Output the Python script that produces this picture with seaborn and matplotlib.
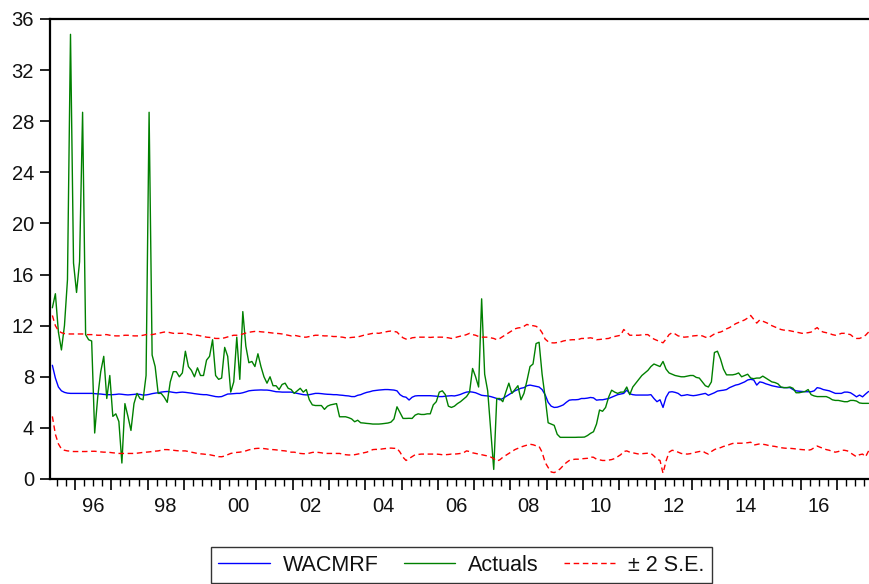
import numpy as np
import pandas as pd
import matplotlib
matplotlib.use("Agg")
import matplotlib.pyplot as plt
import seaborn as sns

# ---------------- data (monthly, 1995:05 .. 2017:11) ----------------
start_year, start_month = 1995, 5

actuals = [
    13.4, 14.5, 11.5, 10.1, 12.0, 15.6, 34.8, 16.9,                     # 1995
    14.6, 17.0, 28.7, 11.3, 10.9, 10.8, 3.6, 6.4, 8.4, 9.6, 6.3, 8.1,   # 1996
    4.9, 5.1, 4.5, 1.25, 5.9, 4.9, 3.8, 5.9, 6.7, 6.3, 6.2, 8.1,        # 1997
    28.7, 9.7, 8.8, 6.7, 6.7, 6.4, 6.0, 7.6, 8.4, 8.4, 8.0, 8.3,        # 1998
    10.0, 8.8, 8.5, 8.0, 8.7, 8.1, 8.1, 9.3, 9.6, 10.9, 8.1, 7.8,       # 1999
    7.9, 10.3, 9.6, 6.8, 7.6, 11.1, 7.8, 13.1, 10.4, 9.1, 9.2, 8.8,     # 2000
    9.8, 8.8, 8.0, 7.5, 8.0, 7.3, 7.3, 7.0, 7.4, 7.5, 7.1, 7.0,         # 2001
    6.7, 6.9, 7.1, 6.8, 7.0, 6.2, 5.8, 5.75, 5.75, 5.75, 5.45, 5.7,     # 2002
    5.8, 5.85, 5.9, 4.87, 4.87, 4.87, 4.8, 4.7, 4.48, 4.6, 4.4, 4.38,   # 2003
    4.35, 4.33, 4.3, 4.3, 4.3, 4.32, 4.35, 4.38, 4.45, 4.7, 5.65, 5.2,  # 2004
    4.74, 4.74, 4.75, 4.74, 5.0, 5.1, 5.05, 5.05, 5.1, 5.1, 5.8, 6.05,  # 2005
    6.8, 6.9, 6.6, 5.7, 5.6, 5.7, 5.9, 6.05, 6.25, 6.45, 6.8, 8.65,     # 2006
    8.0, 7.2, 14.1, 8.2, 6.9, 3.8, 0.75, 6.3, 6.3, 6.05, 6.8, 7.5,      # 2007
    6.7, 7.0, 7.3, 6.2, 6.7, 7.7, 8.8, 9.0, 10.6, 10.7, 8.2, 6.4,       # 2008
    4.4, 4.3, 4.2, 3.5, 3.26, 3.26, 3.26, 3.26, 3.26, 3.26, 3.27, 3.27, # 2009
    3.28, 3.4, 3.57, 3.7, 4.3, 5.4, 5.3, 5.6, 6.4, 6.95, 6.8, 6.7,      # 2010
    6.8, 6.8, 7.2, 6.6, 7.2, 7.5, 7.8, 8.1, 8.3, 8.5, 8.8, 9.0,         # 2011
    8.9, 8.8, 9.2, 8.6, 8.3, 8.2, 8.1, 8.05, 8.0, 8.0, 8.05, 8.1,       # 2012
    8.1, 7.95, 7.9, 7.6, 7.3, 7.2, 7.6, 9.9, 10.0, 9.4, 8.6, 8.15,      # 2013
    8.15, 8.15, 8.2, 8.3, 8.0, 8.1, 8.2, 7.9, 7.85, 7.9, 7.9, 8.05,     # 2014
    7.9, 7.75, 7.6, 7.55, 7.45, 7.2, 7.15, 7.15, 7.2, 7.1, 6.75, 6.75,  # 2015
    6.8, 6.85, 7.0, 6.6, 6.5, 6.45, 6.45, 6.45, 6.45, 6.35, 6.2, 6.15,  # 2016
    6.15, 6.1, 6.05, 6.05, 6.15, 6.15, 6.1, 5.95, 5.92, 5.92, 5.92,     # 2017
]

wacmrf = [
    8.9, 7.9, 7.2, 6.9, 6.78, 6.72, 6.7, 6.7,                                # 1995
    6.7, 6.7, 6.7, 6.7, 6.7, 6.7, 6.68, 6.66, 6.65, 6.62, 6.6, 6.6,          # 1996
    6.6, 6.62, 6.65, 6.63, 6.6, 6.58, 6.6, 6.62, 6.65, 6.62, 6.57, 6.58,     # 1997
    6.62, 6.68, 6.72, 6.75, 6.8, 6.83, 6.85, 6.82, 6.78, 6.75, 6.78, 6.8,    # 1998
    6.78, 6.75, 6.72, 6.68, 6.65, 6.62, 6.6, 6.6, 6.55, 6.5, 6.45, 6.43,     # 1999
    6.45, 6.55, 6.65, 6.66, 6.68, 6.7, 6.7, 6.75, 6.82, 6.9, 6.93, 6.95,     # 2000
    6.96, 6.97, 6.96, 6.96, 6.93, 6.88, 6.83, 6.82, 6.8, 6.8, 6.8, 6.8,      # 2001
    6.75, 6.7, 6.65, 6.6, 6.58, 6.6, 6.65, 6.7, 6.7, 6.68, 6.65, 6.63,       # 2002
    6.62, 6.6, 6.6, 6.57, 6.55, 6.52, 6.5, 6.45, 6.45, 6.55, 6.6, 6.7,       # 2003
    6.78, 6.83, 6.9, 6.93, 6.96, 6.98, 7.0, 7.0, 6.98, 6.96, 6.9, 6.6,       # 2004
    6.45, 6.4, 6.18, 6.4, 6.5, 6.52, 6.52, 6.52, 6.52, 6.52, 6.5, 6.48,      # 2005
    6.45, 6.45, 6.48, 6.5, 6.52, 6.5, 6.55, 6.62, 6.72, 6.8, 6.83, 6.8,      # 2006
    6.75, 6.65, 6.55, 6.52, 6.5, 6.45, 6.38, 6.3, 6.2, 6.3, 6.45, 6.6,       # 2007
    6.75, 6.9, 7.0, 7.1, 7.15, 7.3, 7.35, 7.3, 7.25, 7.2, 7.0, 6.6,          # 2008
    6.0, 5.7, 5.6, 5.62, 5.7, 5.8, 6.0, 6.17, 6.2, 6.2, 6.22, 6.3,           # 2009
    6.3, 6.33, 6.38, 6.35, 6.17, 6.2, 6.2, 6.25, 6.3, 6.4, 6.5, 6.6,         # 2010
    6.65, 6.7, 6.96, 6.67, 6.6, 6.57, 6.57, 6.57, 6.57, 6.57, 6.6, 6.3,      # 2011
    6.05, 6.2, 5.6, 6.4, 6.8, 6.83, 6.78, 6.7, 6.52, 6.55, 6.6, 6.55,        # 2012
    6.52, 6.55, 6.6, 6.65, 6.7, 6.55, 6.65, 6.75, 6.88, 6.92, 6.95, 7.0,     # 2013
    7.15, 7.25, 7.35, 7.4, 7.5, 7.6, 7.75, 7.8, 7.75, 7.35, 7.6, 7.55,       # 2014
    7.45, 7.38, 7.3, 7.25, 7.2, 7.17, 7.15, 7.15, 7.15, 7.0, 6.9, 6.87,      # 2015
    6.85, 6.83, 6.83, 6.83, 6.9, 7.15, 7.1, 7.0, 6.95, 6.9, 6.8, 6.7,        # 2016
    6.7, 6.7, 6.8, 6.8, 6.75, 6.6, 6.43, 6.57, 6.43, 6.65, 6.85,             # 2017
]

se_upper = [
    12.8, 12.0, 11.6, 11.45, 11.38, 11.35, 11.35, 11.35,                          # 1995
    11.35, 11.35, 11.35, 11.3, 11.3, 11.3, 11.28, 11.25, 11.25, 11.3, 11.3, 11.25, # 1996
    11.22, 11.2, 11.2, 11.22, 11.25, 11.25, 11.22, 11.2, 11.2, 11.2, 11.25, 11.3,  # 1997
    11.3, 11.3, 11.35, 11.4, 11.45, 11.5, 11.5, 11.45, 11.4, 11.4, 11.4, 11.4,     # 1998
    11.4, 11.35, 11.3, 11.25, 11.25, 11.2, 11.15, 11.1, 11.08, 11.05, 11.0, 11.0,  # 1999
    11.0, 11.05, 11.12, 11.2, 11.25, 11.25, 11.28, 11.35, 11.42, 11.48, 11.52, 11.55, # 2000
    11.55, 11.52, 11.5, 11.48, 11.45, 11.42, 11.4, 11.38, 11.35, 11.3, 11.25, 11.2,   # 2001
    11.25, 11.2, 11.15, 11.1, 11.1, 11.15, 11.2, 11.25, 11.25, 11.22, 11.2, 11.2,     # 2002
    11.18, 11.15, 11.15, 11.12, 11.1, 11.05, 11.05, 11.08, 11.1, 11.12, 11.18, 11.25, # 2003
    11.3, 11.35, 11.4, 11.42, 11.4, 11.45, 11.5, 11.55, 11.58, 11.55, 11.5, 11.25,    # 2004
    11.05, 10.95, 10.95, 11.05, 11.08, 11.1, 11.1, 11.1, 11.1, 11.08, 11.1, 11.1,     # 2005
    11.1, 11.1, 11.08, 11.05, 11.0, 11.05, 11.12, 11.18, 11.22, 11.3, 11.4, 11.3,     # 2006
    11.25, 11.15, 11.1, 11.1, 11.1, 11.05, 11.0, 10.9, 11.0, 11.15, 11.3, 11.45,      # 2007
    11.6, 11.75, 11.82, 11.85, 11.95, 12.1, 12.0, 12.0, 11.95, 11.8, 11.45, 10.95,    # 2008
    10.75, 10.66, 10.65, 10.68, 10.72, 10.8, 10.85, 10.88, 10.9, 10.9, 10.92, 11.0,   # 2009
    11.0, 11.02, 11.05, 11.0, 10.9, 10.92, 10.95, 10.98, 11.0, 11.1, 11.15, 11.2,     # 2010
    11.25, 11.7, 11.5, 11.25, 11.25, 11.25, 11.25, 11.28, 11.3, 11.3, 11.1, 10.95,    # 2011
    10.85, 10.75, 10.66, 10.95, 11.3, 11.45, 11.35, 11.2, 11.15, 11.1, 11.12, 11.15,  # 2012
    11.2, 11.22, 11.25, 11.2, 11.1, 11.05, 11.2, 11.35, 11.45, 11.5, 11.6, 11.75,     # 2013
    11.85, 12.0, 12.15, 12.25, 12.35, 12.45, 12.6, 12.8, 12.5, 12.2, 12.45, 12.35,    # 2014
    12.25, 12.15, 12.0, 11.9, 11.8, 11.7, 11.65, 11.65, 11.6, 11.55, 11.5, 11.45,     # 2015
    11.4, 11.42, 11.45, 11.5, 11.7, 11.85, 11.6, 11.5, 11.45, 11.4, 11.3, 11.25,      # 2016
    11.3, 11.4, 11.4, 11.35, 11.3, 11.1, 11.0, 11.0, 11.1, 11.25, 11.5,               # 2017
]

se_lower = [
    4.9, 3.5, 2.75, 2.35, 2.25, 2.2, 2.18, 2.15,                               # 1995
    2.15, 2.15, 2.15, 2.15, 2.16, 2.17, 2.17, 2.15, 2.12, 2.1, 2.1, 2.08,      # 1996
    2.05, 2.03, 2.0, 2.0, 2.0, 2.0, 2.0, 2.0, 2.02, 2.05, 2.08, 2.1,           # 1997
    2.12, 2.15, 2.18, 2.2, 2.25, 2.3, 2.3, 2.28, 2.25, 2.22, 2.2, 2.2,         # 1998
    2.2, 2.15, 2.1, 2.05, 2.0, 1.97, 1.95, 1.92, 1.9, 1.85, 1.8, 1.75,         # 1999
    1.74, 1.8, 1.9, 2.0, 2.05, 2.08, 2.1, 2.15, 2.2, 2.28, 2.33, 2.38,         # 2000
    2.4, 2.4, 2.38, 2.35, 2.3, 2.3, 2.28, 2.25, 2.22, 2.2, 2.15, 2.1,          # 2001
    2.1, 2.05, 2.0, 1.98, 1.98, 2.02, 2.08, 2.1, 2.08, 2.05, 2.0, 2.0,         # 2002
    2.0, 2.0, 2.0, 2.0, 1.95, 1.9, 1.88, 1.88, 1.9, 1.95, 2.0, 2.05,           # 2003
    2.1, 2.2, 2.3, 2.32, 2.3, 2.35, 2.38, 2.4, 2.42, 2.4, 2.4, 2.1,            # 2004
    1.7, 1.45, 1.6, 1.75, 1.9, 1.92, 1.95, 1.95, 1.95, 1.95, 1.95, 1.95,       # 2005
    1.93, 1.9, 1.9, 1.92, 1.95, 1.95, 1.97, 2.0, 2.05, 2.2, 2.15, 2.05,        # 2006
    2.0, 1.95, 1.9, 1.85, 1.8, 1.72, 1.6, 1.4, 1.5, 1.7, 1.85, 2.0,            # 2007
    2.15, 2.3, 2.4, 2.5, 2.58, 2.65, 2.72, 2.68, 2.6, 2.55, 2.1, 1.3,          # 2008
    0.9, 0.55, 0.5, 0.62, 0.8, 1.05, 1.28, 1.45, 1.52, 1.55, 1.55, 1.58,       # 2009
    1.6, 1.62, 1.72, 1.7, 1.55, 1.5, 1.45, 1.45, 1.48, 1.52, 1.6, 1.75,        # 2010
    1.9, 2.15, 2.2, 2.1, 2.05, 2.0, 1.95, 1.98, 2.0, 2.02, 2.0, 1.8,           # 2011
    1.55, 1.45, 0.45, 1.4, 2.1, 2.25, 2.2, 2.1, 2.0, 1.97, 1.95, 1.98,         # 2012
    2.05, 2.1, 2.15, 2.2, 2.05, 1.95, 2.15, 2.3, 2.4, 2.45, 2.55, 2.6,         # 2013
    2.7, 2.78, 2.8, 2.8, 2.8, 2.82, 2.84, 2.88, 2.65, 2.7, 2.75, 2.72,         # 2014
    2.68, 2.62, 2.58, 2.55, 2.5, 2.45, 2.42, 2.4, 2.4, 2.38, 2.35, 2.32,       # 2015
    2.3, 2.28, 2.25, 2.3, 2.45, 2.58, 2.48, 2.4, 2.3, 2.25, 2.15, 2.1,         # 2016
    2.15, 2.25, 2.25, 2.2, 2.05, 1.9, 1.74, 1.9, 1.95, 1.74, 2.2,              # 2017
]

y_ticks = [0, 4, 8, 12, 16, 20, 24, 28, 32, 36]
x_label_years = list(range(1996, 2017, 2))
x_tick_labels = [f"{y % 100:02d}" for y in x_label_years]
legend_labels = ["WACMRF", "Actuals", "\u00b1 2 S.E."]

# ---------------- build frame ----------------
n = len(actuals)
t = start_year + (start_month - 0.5) / 12 + np.arange(n) / 12.0
df = pd.DataFrame({"t": t, "wacmrf": wacmrf, "actuals": actuals,
                   "upper": se_upper, "lower": se_lower})

sns.set_style("white")
plt.rcParams["font.family"] = ["Liberation Sans", "DejaVu Sans"]

fig = plt.figure(figsize=(8.7, 5.84), dpi=100)
ax = fig.add_axes([50 / 870, 1 - 479 / 584, 819.5 / 870, 460 / 584])

dash = (0, (4.0, 2.6))
sns.lineplot(data=df, x="t", y="wacmrf", color="#0000ff", lw=1.0, ax=ax,
             label=legend_labels[0], errorbar=None)
sns.lineplot(data=df, x="t", y="actuals", color="#008000", lw=1.0, ax=ax,
             label=legend_labels[1], errorbar=None)
sns.lineplot(data=df, x="t", y="upper", color="#ff0000", lw=1.0, ax=ax,
             label=legend_labels[2], errorbar=None, linestyle=dash)
sns.lineplot(data=df, x="t", y="lower", color="#ff0000", lw=1.0, ax=ax,
             errorbar=None, linestyle=dash)

ax.set_xlim(1995.31, 2017.9)
ax.set_ylim(0, 36)
ax.set_xlabel("")
ax.set_ylabel("")

# y axis
ax.set_yticks(y_ticks)
ax.tick_params(axis="y", direction="out", length=7, width=1.2, color="black",
               labelsize=14.5, pad=4.5, left=True, labelcolor="#111111")

# x axis: year ticks (major), quarter ticks (minor), labels mid-year
years = np.arange(1996, 2018)
ax.set_xticks(years)
ax.set_xticklabels([])
ax.set_xticks(np.arange(1995.5, 2017.9, 0.25), minor=True)
ax.tick_params(axis="x", which="major", direction="out", length=8, width=1.2,
               color="black", bottom=True)
ax.tick_params(axis="x", which="minor", direction="out", length=5, width=1.0,
               color="black", bottom=True)

sec = ax.secondary_xaxis("bottom")
sec.set_xticks([y + 0.5 for y in x_label_years], labels=x_tick_labels)
sec.tick_params(length=0, labelsize=14.5, pad=13, labelcolor="#111111")
sec.spines["bottom"].set_visible(False)

for side in ["left", "bottom", "top"]:
    ax.spines[side].set_visible(True)
    ax.spines[side].set_color("black")
    ax.spines[side].set_linewidth(1.6)
ax.spines["right"].set_visible(False)

ax.legend_.remove()
handles, labels = ax.get_legend_handles_labels()
leg = fig.legend(handles[:3], labels[:3], loc="upper center", ncol=3,
                 bbox_to_anchor=(461.5 / 870, 1 - 547 / 584),
                 frameon=True, fancybox=False, edgecolor="black",
                 fontsize=15.5, handlelength=2.4, columnspacing=1.15,
                 handletextpad=0.6, borderpad=0.35, borderaxespad=0.0,
                 labelcolor="#111111")
leg.get_frame().set_linewidth(1.0)

fig.savefig("out.png", dpi=100)
